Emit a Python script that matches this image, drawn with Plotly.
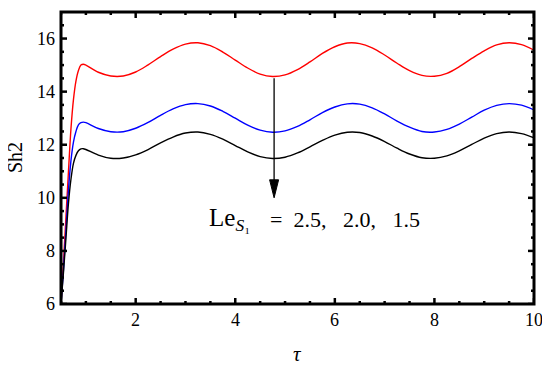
import plotly.graph_objects as go

# ---- data ----
tau = [0.5, 0.55, 0.6, 0.65, 0.7, 0.75, 0.8, 0.85, 0.9, 0.95,
       1.0, 1.25, 1.5, 1.75, 2.0, 2.25, 2.5, 2.75, 3.0, 3.25, 3.5, 3.75,
       4.0, 4.25, 4.5, 4.75, 5.0, 5.25, 5.5, 5.75, 6.0, 6.25, 6.5, 6.75,
       7.0, 7.25, 7.5, 7.75, 8.0, 8.25, 8.5, 8.75, 9.0, 9.25, 9.5, 9.75, 10.0]

sh2_le25 = [6.0, 7.6, 9.3, 11.0, 12.6, 13.7, 14.4, 14.8, 15.0, 15.03,
            15.00, 14.73, 14.59, 14.59, 14.74, 15.01, 15.32, 15.60, 15.79, 15.84, 15.73, 15.49,
            15.19, 14.89, 14.66, 14.57, 14.63, 14.83, 15.12, 15.44, 15.69, 15.83, 15.81, 15.65,
            15.38, 15.07, 14.79, 14.61, 14.58, 14.69, 14.94, 15.25, 15.54, 15.76, 15.84, 15.77, 15.56]

sh2_le20 = [6.0, 7.3, 8.8, 10.3, 11.4, 12.1, 12.5, 12.75, 12.83, 12.85,
            12.83, 12.61, 12.49, 12.49, 12.62, 12.84, 13.11, 13.35, 13.51, 13.55, 13.46, 13.26,
            13.00, 12.74, 12.55, 12.47, 12.52, 12.69, 12.94, 13.21, 13.42, 13.54, 13.53, 13.39,
            13.16, 12.89, 12.66, 12.50, 12.48, 12.58, 12.78, 13.04, 13.30, 13.48, 13.55, 13.49, 13.31]

sh2_le15 = [6.0, 7.2, 8.5, 9.8, 10.7, 11.3, 11.6, 11.77, 11.84, 11.85,
            11.82, 11.61, 11.49, 11.50, 11.62, 11.82, 12.07, 12.29, 12.44, 12.48, 12.39, 12.21,
            11.97, 11.73, 11.55, 11.48, 11.53, 11.69, 11.92, 12.16, 12.36, 12.47, 12.46, 12.33,
            12.12, 11.87, 11.65, 11.51, 11.49, 11.58, 11.77, 12.01, 12.25, 12.42, 12.48, 12.42, 12.26]

x_major = [2, 4, 6, 8, 10]
x_minor = [0.5, 1, 1.5, 2.5, 3, 3.5, 4.5, 5, 5.5, 6.5, 7, 7.5, 8.5, 9, 9.5]
y_major = [6, 8, 10, 12, 14, 16]
y_minor = [6.5, 7, 7.5, 8.5, 9, 9.5, 10.5, 11, 11.5, 12.5, 13, 13.5, 14.5, 15, 15.5, 16.5]
x_labels = ["2", "4", "6", "8", "10"]
y_labels = ["6", "8", "10", "12", "14", "16"]
x_range = [0.5, 10]
y_range = [6, 17]

x_title = "<i>&#964;</i>"
y_title = "Sh2"

# arrow and label (data coordinates)
arrow_x = 4.78
arrow_top = 14.5
arrow_tip = 10.0
label_le_x = 3.43
label_eq_x = 4.65
label_y = 9.2
label_le = "Le<sub><i>S</i>&#8321;</sub>"
label_vals = "=  2.5,   2.0,   1.5"

FONT = "Liberation Serif"
MAJOR_LEN = 6
MINOR_LEN = 3
TICK_W = 2.5

fig = go.Figure()
for ys, col in [(sh2_le25, "#FF0000"), (sh2_le20, "#0000FF"), (sh2_le15, "#000000")]:
    fig.add_trace(go.Scatter(x=tau, y=ys, mode="lines",
                             line=dict(color=col, width=1.4, shape="spline")))

fig.update_layout(width=542, height=359, margin=dict(l=53, r=16, t=4, b=63),
                  plot_bgcolor="white", paper_bgcolor="white", showlegend=False)
fig.update_xaxes(range=x_range, showticklabels=False, ticks="", showline=False,
                 showgrid=False, zeroline=False)
fig.update_yaxes(range=y_range, showticklabels=False, ticks="", showline=False,
                 showgrid=False, zeroline=False)

# frame around the plot area
fig.add_shape(type="rect", xref="paper", yref="paper", x0=0, x1=1, y0=0, y1=1,
              line=dict(color="black", width=3), fillcolor="rgba(0,0,0,0)", layer="above")

# inward tick marks on all four sides (positions on the axes' own scales)
def x_tick(v, length):
    for anchor, sign in [(0, 1), (1, -1)]:
        fig.add_shape(type="line", xref="x", yref="paper", ysizemode="pixel",
                      yanchor=anchor, x0=v, x1=v, y0=0, y1=sign * length,
                      line=dict(color="black", width=TICK_W), layer="above")

def y_tick(v, length):
    for anchor, sign in [(0, 1), (1, -1)]:
        fig.add_shape(type="line", xref="paper", yref="y", xsizemode="pixel",
                      xanchor=anchor, y0=v, y1=v, x0=0, x1=sign * length,
                      line=dict(color="black", width=TICK_W), layer="above")

for v in x_major:
    x_tick(v, MAJOR_LEN)
for v in x_minor:
    x_tick(v, MINOR_LEN)
for v in y_major:
    y_tick(v, MAJOR_LEN)
for v in y_minor:
    y_tick(v, MINOR_LEN)

# tick labels
for v, t in zip(x_major, x_labels):
    fig.add_annotation(x=v, y=0, xref="x", yref="paper", text=t, showarrow=False,
                       xanchor="center", yanchor="top", yshift=-4,
                       font=dict(family=FONT, size=18, color="black"))
for v, t in zip(y_major, y_labels):
    fig.add_annotation(x=0, y=v, xref="paper", yref="y", text=t, showarrow=False,
                       xanchor="right", yanchor="middle", xshift=-4,
                       font=dict(family=FONT, size=18, color="black"))

# axis titles
fig.add_annotation(x=0.5, y=-0.171, xref="paper", yref="paper", text=x_title,
                   showarrow=False, xanchor="center", yanchor="middle",
                   font=dict(family=FONT, size=21, color="black"))
fig.add_annotation(x=-0.097, y=0.5, xref="paper", yref="paper", text=y_title,
                   showarrow=False, xanchor="center", yanchor="middle", textangle=-90,
                   font=dict(family=FONT, size=20, color="black"))

# arrow shaft
fig.add_shape(type="line", xref="x", yref="y", x0=arrow_x, x1=arrow_x,
              y0=arrow_top, y1=arrow_tip + 0.3, line=dict(color="black", width=1.3))
# arrow head (pixel-sized, anchored at the tip)
fig.add_shape(type="path", xref="x", yref="y", xsizemode="pixel", ysizemode="pixel",
              xanchor=arrow_x, yanchor=arrow_tip,
              path="M -4.5,18 L 4.5,18 L 0,0 Z", fillcolor="black",
              line=dict(color="black", width=1))

# parameter label
fig.add_annotation(x=label_le_x, y=label_y, xref="x", yref="y", text=label_le,
                   showarrow=False, xanchor="left", yanchor="middle",
                   font=dict(family=FONT, size=25, color="black"))
fig.add_annotation(x=label_eq_x, y=label_y, xref="x", yref="y", text=label_vals,
                   showarrow=False, xanchor="left", yanchor="middle",
                   font=dict(family=FONT, size=22, color="black"))

fig.write_html("out.html")
